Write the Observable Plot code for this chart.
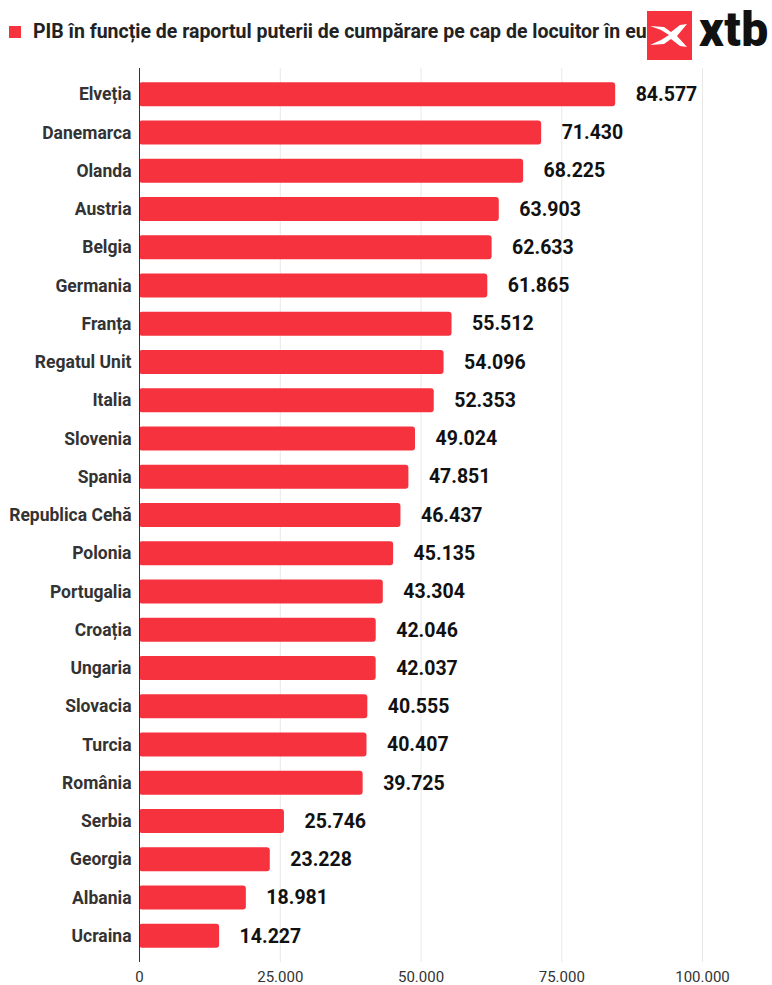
<!DOCTYPE html>
<html>
<head>
<meta charset="utf-8">
<script src="https://cdn.jsdelivr.net/npm/d3@7"></script>
<script src="https://cdn.jsdelivr.net/npm/@observablehq/plot@0.6"></script>
<style>
  html, body { margin: 0; padding: 0; background: #fff; }
  body { width: 772px; height: 985px; overflow: hidden; font-family: Roboto, "Noto Sans", sans-serif; }
  #header { position: relative; height: 60px; width: 772px; overflow: hidden; }
  #legend { position: absolute; left: 9px; top: 20px; display: flex; align-items: center; white-space: nowrap;
            font-weight: 700; font-size: 19.5px; color: #222; }
  #legend .sw { width: 12px; height: 12px; background: #f6323e; margin-right: 12px; }
  #logo { position: absolute; left: 647px; top: 11px; width: 125px; height: 49px; background: #fff; }
  #logo .box { position: absolute; left: 0; top: 0; width: 45px; height: 49px; background: #f6323e; }
  #logo .txt { position: absolute; left: 52px; top: -5px; font-family: Roboto, sans-serif; font-weight: 900;
               font-size: 48px; letter-spacing: 0.5px; color: #111; line-height: 1; }
  #chart svg { display: block; }
</style>
</head>
<body>
<div id="header">
  <div id="legend"><div class="sw"></div><span>PIB în funcție de raportul puterii de cumpărare pe cap de locuitor în euro</span></div>
  <div id="logo">
    <div class="box">
      <svg width="45" height="49" viewBox="0 0 45 49">
        <path d="M3 15 L14 19 L22 24 L14 29 L3 34 L17 33 L24 28 L33 35 L40 36 L30 25 L40 13 L33 14 L24 21 L17 16 Z" fill="#fff"/>
      </svg>
    </div>
    <div class="txt">xtb</div>
  </div>
</div>
<div id="chart"></div>
<script>
const countries = ["Elveția","Danemarca","Olanda","Austria","Belgia","Germania","Franța","Regatul Unit","Italia","Slovenia","Spania","Republica Cehă","Polonia","Portugalia","Croația","Ungaria","Slovacia","Turcia","România","Serbia","Georgia","Albania","Ucraina"];
const values = [84577,71430,68225,63903,62633,61865,55512,54096,52353,49024,47851,46437,45135,43304,42046,42037,40555,40407,39725,25746,23228,18981,14227];
const xTicks = [0,25000,50000,75000,100000];

const data = countries.map((c, i) => ({country: c, value: values[i]}));
const loc = d3.formatLocale({decimal: ",", thousands: ".", grouping: [3], currency: ["", "€"]});
const fmt = loc.format(",d");

const chart = Plot.plot({
  width: 772,
  height: 925,
  marginLeft: 139,
  marginRight: 70,
  marginTop: 8,
  marginBottom: 23,
  style: {fontFamily: "Roboto, sans-serif", background: "#fff"},
  x: {domain: [0, 100000], ticks: xTicks, tickFormat: fmt, label: null},
  y: {domain: countries, padding: 0.37, round: false, label: null},
  marks: [
    Plot.ruleX(xTicks.filter(d => d > 0), {stroke: "#e8e8e8", strokeWidth: 1}),
    Plot.barX(data, {x: "value", y: "country", fill: "#f6323e", rx: 3}),
    Plot.ruleX([0], {stroke: "#333", strokeWidth: 1}),
    Plot.text(data, {x: "value", y: "country", text: d => fmt(d.value), dx: 20, textAnchor: "start",
      fontSize: 19.5, fontWeight: 700, fill: "#111"}),
    Plot.axisY({tickSize: 0, tickPadding: 8, fontSize: 17.5, fontWeight: 700, fill: "#333"}),
    Plot.axisX({ticks: xTicks, tickFormat: fmt, tickSize: 0, tickPadding: 9, fontSize: 15, fill: "#333", label: null})
  ]
});
document.getElementById("chart").appendChild(chart);
</script>
</body>
</html>
